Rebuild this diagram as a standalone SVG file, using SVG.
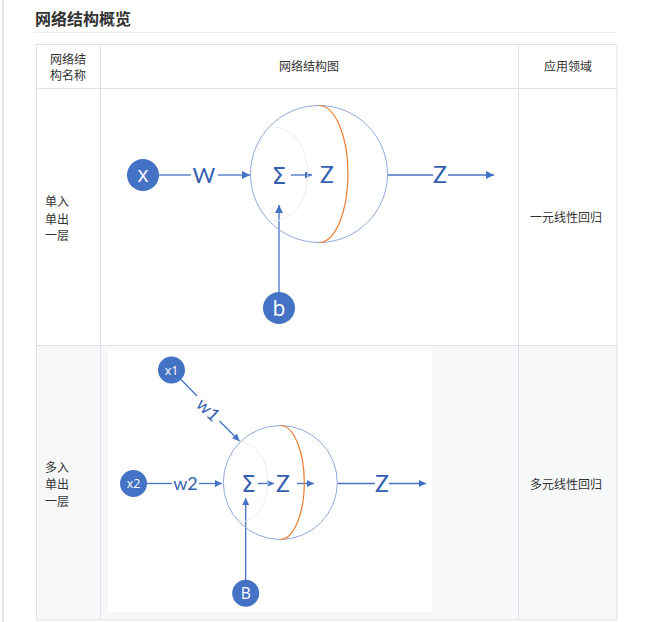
<svg xmlns="http://www.w3.org/2000/svg" width="650" height="622" viewBox="0 0 650 622">
<style>
.cjk{font-family:"Liberation Sans","Noto Sans CJK SC",sans-serif;font-size:12px;fill:#333}
.title{font-family:"Liberation Sans","Noto Sans CJK SC",sans-serif;font-size:16px;font-weight:bold;fill:#333}
.grid{stroke:#dfe2e5;stroke-width:1;fill:none}
.node{fill:#4472C4}
.nt{font-family:"Open Sans","Noto Sans",sans-serif;fill:#fff;text-anchor:middle}
.lbl{font-family:Lato,"Noto Sans","DejaVu Sans",sans-serif;fill:#3560B0;text-anchor:middle}
.sig{font-family:"DejaVu Sans",sans-serif;fill:#3560B0;text-anchor:middle}
.ln{stroke:#4472C4;stroke-width:1.3;fill:none}
.sphere{stroke:#8EA9DB;stroke-width:1;fill:none}
.inner{stroke:#E9ECF1;stroke-width:1;fill:none}
.orange{stroke:#ED7D31;stroke-width:1.2;fill:none}
</style>
<defs>
<marker id="ah" viewBox="0 0 10 10" refX="10" refY="5" markerWidth="7" markerHeight="7" markerUnits="userSpaceOnUse" orient="auto">
<path d="M0,0 L10,5 L0,10 z" fill="#4472C4"/>
</marker>
<marker id="ahb" viewBox="0 0 10 10" refX="10" refY="5" markerWidth="9" markerHeight="8" markerUnits="userSpaceOnUse" orient="auto">
<path d="M0,0 L10,5 L0,10 z" fill="#4472C4"/>
</marker>
</defs>
<rect width="650" height="622" fill="#fff"/>
<rect x="2" y="0" width="2" height="622" fill="#e6e6e6"/>
<g id="title">
<text class="title" x="35" y="24.5">网络结构概览</text>
<line x1="33" y1="32.5" x2="617" y2="32.5" stroke="#eaecef" stroke-width="1"/>
</g>
<g id="table">
<rect x="36" y="345" width="581" height="275" fill="#f6f8fa"/>
<rect x="108" y="350" width="324" height="262" fill="#fff"/>
<rect class="grid" x="36.5" y="44.5" width="580.5" height="575.5"/>
<line class="grid" x1="36" y1="88.5" x2="617" y2="88.5"/>
<line class="grid" x1="36" y1="345.5" x2="617" y2="345.5"/>
<line class="grid" x1="100.5" y1="44" x2="100.5" y2="620"/>
<line class="grid" x1="518.5" y1="44" x2="518.5" y2="620"/>
<text class="cjk" x="68" y="63.5" text-anchor="middle">网络结</text>
<text class="cjk" x="68" y="79.5" text-anchor="middle">构名称</text>
<text class="cjk" x="309" y="71" text-anchor="middle">网络结构图</text>
<text class="cjk" x="568" y="71" text-anchor="middle">应用领域</text>
<text class="cjk" x="45" y="206">单入</text>
<text class="cjk" x="45" y="223.5">单出</text>
<text class="cjk" x="45" y="240">一层</text>
<text class="cjk" x="530" y="222">一元线性回归</text>
<text class="cjk" x="45" y="471.5">多入</text>
<text class="cjk" x="45" y="488.5">单出</text>
<text class="cjk" x="45" y="505.5">一层</text>
<text class="cjk" x="530" y="489">多元线性回归</text>
</g>
<g id="connectors">
<line class="ln" x1="159" y1="175" x2="191" y2="175"/>
<line class="ln" x1="218" y1="175" x2="250" y2="175" marker-end="url(#ahb)"/>
<line class="ln" x1="291" y1="175" x2="312" y2="175" marker-end="url(#ah)"/>
<line class="ln" x1="387" y1="175" x2="433" y2="175"/>
<line class="ln" x1="448" y1="175" x2="494" y2="175" marker-end="url(#ahb)"/>
<line class="ln" x1="279" y1="292" x2="279" y2="205" marker-end="url(#ahb)"/>
<line class="ln" x1="181" y1="379.5" x2="197" y2="396"/>
<line class="ln" x1="219.5" y1="421" x2="239.5" y2="441" marker-end="url(#ah)"/>
<line class="ln" x1="147" y1="483.5" x2="172" y2="483.5"/>
<line class="ln" x1="199" y1="483.5" x2="222" y2="483.5" marker-end="url(#ah)"/>
<line class="ln" x1="258" y1="483.5" x2="274" y2="483.5" marker-end="url(#ah)"/>
<line class="ln" x1="297" y1="483.5" x2="314" y2="483.5" marker-end="url(#ah)"/>
<line class="ln" x1="337.5" y1="483.5" x2="375" y2="483.5"/>
<line class="ln" x1="389" y1="483.5" x2="426" y2="483.5" marker-end="url(#ah)"/>
<line class="ln" x1="245.7" y1="580" x2="245.7" y2="498" marker-end="url(#ah)"/>
</g>
<g id="neuron1">
<circle class="sphere" cx="319" cy="174" r="68.5"/>
<path class="inner" d="M274,127 A34,47 0 0 1 274,221"/>
<path class="orange" d="M319,105.5 A29,68.5 0 0 1 319,242.5"/>
<text class="sig" x="279" y="183.5" font-size="23">Σ</text>
<text class="lbl" x="327" y="183" font-size="23">Z</text>
</g>
<g id="x">
<circle class="node" cx="143" cy="175" r="16"/>
<text class="nt" x="143" y="182" font-size="21">x</text>
</g>
<g id="w"><text class="lbl" x="204" y="182.5" font-size="22">W</text></g>
<g id="z1"><text class="lbl" x="440" y="183" font-size="23">Z</text></g>
<g id="b">
<circle class="node" cx="279" cy="308" r="16"/>
<text class="nt" x="279" y="315.5" font-size="21">b</text>
</g>
<g id="neuron2">
<circle class="sphere" cx="280.3" cy="482.5" r="57" stroke="#6F8FCF"/>
<path class="inner" d="M240,442 A28,40 0 0 1 240,522"/>
<path class="orange" d="M280.3,425.5 A24,57 0 0 1 280.3,539.5"/>
<text class="sig" x="248.5" y="492" font-size="23">Σ</text>
<text class="lbl" x="283" y="491.5" font-size="23">Z</text>
</g>
<g id="x1">
<circle class="node" cx="171.5" cy="370" r="13.5"/>
<text class="nt" x="171.5" y="374.5" font-size="12.5">x1</text>
</g>
<g id="w1"><text class="lbl" x="0" y="0" font-size="18" transform="translate(208,410) rotate(44)" dy="6">w1</text></g>
<g id="x2">
<circle class="node" cx="133.5" cy="483.5" r="13.5"/>
<text class="nt" x="133.5" y="488" font-size="12.5">x2</text>
</g>
<g id="w2"><text class="lbl" x="185.5" y="490" font-size="18">w2</text></g>
<g id="z2"><text class="lbl" x="382" y="491.5" font-size="23">Z</text></g>
<g id="B">
<circle class="node" cx="245.7" cy="593.3" r="13.5"/>
<text class="nt" x="245.7" y="599" font-size="15.5">B</text>
</g>
</svg>
